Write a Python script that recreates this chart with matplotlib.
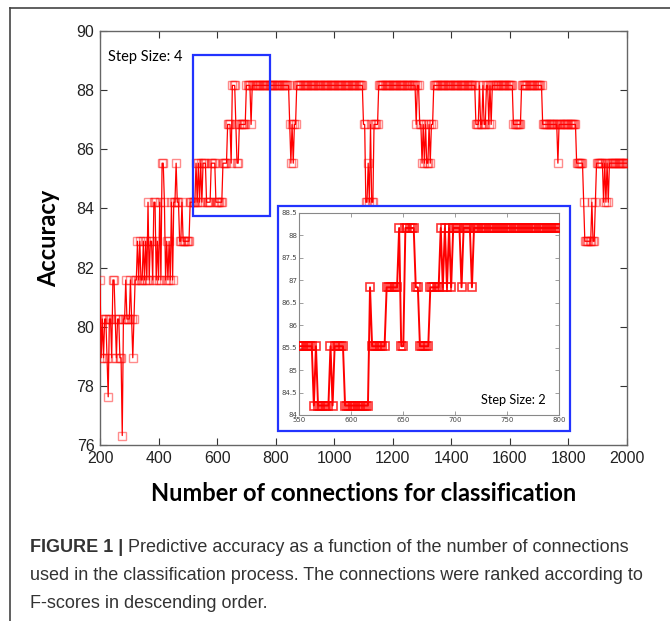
import numpy as np
import matplotlib
matplotlib.use("Agg")
import matplotlib.pyplot as plt
from matplotlib.lines import Line2D
import matplotlib.patches as patches

# accuracy levels seen on the plot (k/76 correct)
L0, L1, L2, L3, L4 = 76.32, 77.63, 78.95, 80.26, 81.58
L5, L6, L7, L8, L9 = 82.89, 84.21, 85.53, 86.84, 88.16

# main curve, step size 4 starting at 200 connections: (value, how many points)
main_start, main_step = 200, 4
main_runs = [
    (L4, 1), (L2, 1), (L3, 1), (L2, 1), (L3, 2), (L2, 1), (L1, 1), (L3, 2), (L2, 1),
    (L4, 2), (L3, 1), (L2, 1), (L3, 2), (L2, 2), (L0, 1), (L3, 2), (L4, 1), (L3, 3),
    (L4, 1), (L3, 1), (L2, 1), (L3, 1), (L4, 2), (L5, 1), (L4, 1), (L5, 1), (L4, 2),
    (L5, 1), (L4, 1), (L5, 1), (L4, 1), (L6, 1), (L4, 1), (L5, 2), (L4, 1), (L6, 2),
    (L4, 1), (L5, 1), (L4, 1), (L6, 1), (L4, 1), (L7, 2), (L6, 1), (L4, 1), (L5, 1),
    (L4, 1), (L5, 1), (L4, 1), (L6, 1), (L4, 1), (L6, 2), (L7, 1), (L6, 2), (L5, 2),
    (L6, 1), (L5, 6), (L6, 5), (L7, 1), (L6, 1), (L7, 1), (L6, 1), (L7, 1), (L6, 1),
    # 552 onwards
    (L7, 3), (L6, 4), (L7, 4), (L6, 6), (L7, 4), (L8, 3), (L7, 1), (L9, 3), (L8, 1),
    (L7, 2), (L8, 6), (L9, 4), (L8, 1), (L9, 32),
    (L8, 1), (L7, 1), (L8, 1), (L7, 1), (L8, 2), (L9, 57),
    (L8, 2), (L6, 2), (L7, 1), (L6, 1), (L8, 1), (L6, 2), (L8, 4), (L9, 32),
    (L8, 1), (L9, 2), (L8, 2), (L7, 1), (L8, 1), (L7, 1), (L8, 1), (L7, 2), (L8, 1),
    (L7, 1), (L8, 2), (L9, 36),
    (L8, 3), (L9, 1), (L8, 2), (L9, 1), (L8, 2), (L9, 2), (L8, 1), (L9, 1), (L8, 1),
    (L9, 18), (L8, 7), (L9, 18), (L8, 13), (L7, 1), (L8, 15), (L7, 6), (L6, 1),
    (L5, 6), (L6, 1), (L5, 2), (L6, 1), (L7, 6), (L6, 1), (L7, 1), (L6, 1), (L7, 1),
    (L6, 1), (L7, 16),
]

# zoomed curve, step size 2 from 550 to 800
inset_start, inset_step = 550, 2
inset_runs = [
    (L7, 7), (L6, 1), (L7, 1), (L6, 6), (L7, 1), (L6, 1), (L7, 5), (L6, 12), (L8, 1),
    (L7, 7), (L8, 6), (L9, 1), (L7, 2), (L9, 5), (L8, 2), (L7, 5), (L8, 5), (L9, 1),
    (L8, 1), (L9, 1), (L8, 1), (L9, 1), (L8, 1), (L9, 4), (L8, 1), (L9, 4), (L8, 1),
    (L9, 42),
]

main_xticks = list(range(200, 2001, 200))
main_yticks = [76, 78, 80, 82, 84, 86, 88, 90]
inset_xticks = [550, 600, 650, 700, 750, 800]
inset_yticks = [84, 84.5, 85, 85.5, 86, 86.5, 87, 87.5, 88, 88.5]

caption_bold = "FIGURE 1 |"
caption_lines = [" Predictive accuracy as a function of the number of connections",
                 "used in the classification process. The connections were ranked according to",
                 "F-scores in descending order."]


def expand(runs, start, step):
    acc = []
    for v, n in runs:
        acc += [v] * n
    acc = np.array(acc)
    x = start + step * np.arange(len(acc))
    return x, acc


mx, my = expand(main_runs, main_start, main_step)
ix, iy = expand(inset_runs, inset_start, inset_step)

W, H = 670, 621
fig = plt.figure(figsize=(W / 100, H / 100), dpi=100)

spine_col = '#666666'

# ---- main axes
ax = fig.add_axes([100 / W, 1 - 445 / H, 527 / W, 414 / H])
ax.plot(mx, my, '-', color='red', lw=0.9, zorder=3)
ax.plot(mx, my, 's', mfc='none', mec='red', ms=5.5, mew=1.0, alpha=0.45, zorder=3)
ax.set_xlim(200, 2000)
ax.set_ylim(76, 90)
ax.set_xticks(main_xticks)
ax.set_yticks(main_yticks)
ax.tick_params(direction='in', top=True, right=True, length=5, width=0.8,
               color='#333333', labelsize=11.5, labelcolor='#222222', pad=4)
for s in ax.spines.values():
    s.set_color(spine_col)
    s.set_linewidth(1.0)
for lab in ax.get_xticklabels() + ax.get_yticklabels():
    lab.set_family('Liberation Sans')
ax.set_xlabel('Number of connections for classification', fontsize=17,
              fontweight='bold', family='Lato', labelpad=12)
ax.set_ylabel('Accuracy', fontsize=17, fontweight='bold', family='Lato', labelpad=12)
ax.text(0.016, 0.937, 'Step Size: 4', transform=ax.transAxes, fontsize=10.5,
        family='Lato', va='center', ha='left')

# blue box marking the zoomed range
ax.add_patch(patches.Rectangle((517, 83.75), 265, 5.44, fill=False,
                               edgecolor='#2233ff', lw=1.6, zorder=4))

# ---- inset frame and axes
fig.add_artist(patches.Rectangle((278 / W, 1 - 431 / H), 292 / W, 225 / H,
                                 transform=fig.transFigure, facecolor='white',
                                 edgecolor='#2233ff', lw=1.6, zorder=5))
ins = fig.add_axes([299.3 / W, 1 - 415 / H, 260 / W, 202.3 / H], zorder=6)
ins.plot(ix, iy, '-', color='red', lw=1.4, zorder=3)
ins.plot(ix, iy, 's', mfc='none', mec='red', ms=5.5, mew=1.2, alpha=0.8, zorder=3)
ins.set_xlim(550, 800)
ins.set_ylim(84, 88.5)
ins.set_xticks(inset_xticks)
ins.set_yticks(inset_yticks)
ins.set_yticklabels(['84', '84.5', '85', '85.5', '86', '86.5', '87', '87.5', '88', '88.5'])
ins.tick_params(direction='in', top=True, right=True, length=3, width=0.5,
                color='#777777', labelsize=5, labelcolor='#444444', pad=1.5)
for s in ins.spines.values():
    s.set_color('#888888')
    s.set_linewidth(0.8)
ins.text(0.70, 0.075, 'Step Size: 2', transform=ins.transAxes, fontsize=9.2,
         family='Lato', va='center', ha='left')

# ---- figure frame (top and left edge of the panel)
fig.add_artist(Line2D([10 / W, 1], [1 - 8 / H, 1 - 8 / H], transform=fig.transFigure,
                      color='#444444', lw=1.2))
fig.add_artist(Line2D([10 / W, 10 / W], [0, 1 - 8 / H], transform=fig.transFigure,
                      color='#444444', lw=1.2))

# ---- caption
cap_col = '#333333'
cap_size = 13
ys = [548, 575, 603]
t = fig.text(30 / W, 1 - ys[0] / H, caption_bold, fontsize=cap_size, fontweight='bold',
             family='Liberation Sans', color=cap_col, va='center', ha='left')
fig.canvas.draw()
bb = t.get_window_extent()
fig.text(bb.x1 / W, 1 - ys[0] / H, caption_lines[0], fontsize=cap_size,
         family='Liberation Sans', color=cap_col, va='center', ha='left')
for yy, line in zip(ys[1:], caption_lines[1:]):
    fig.text(30 / W, 1 - yy / H, line, fontsize=cap_size, family='Liberation Sans',
             color=cap_col, va='center', ha='left')

fig.savefig('out.png', dpi=100)
